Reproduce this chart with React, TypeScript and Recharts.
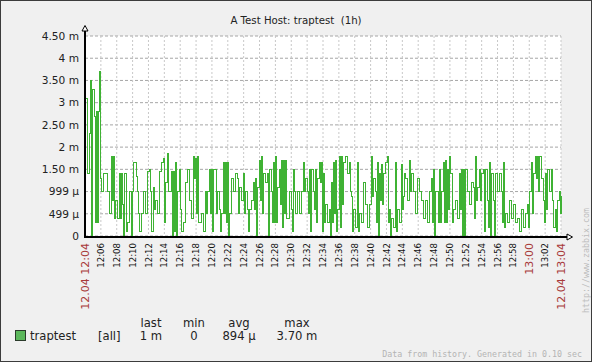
import React from 'react';
import { LineChart, Line, XAxis, YAxis, CartesianGrid } from 'recharts';

// traptest values in milliseconds, read left to right (about 7.5 s per value)
const part1204 = [
  3.1, 3.1, 1.4, 1.4, 2.3, 3.5, 0, 3.3, 3.3, 2.7, 0.3, 2.8, 0.3, 2.8, 3.7, 1.3, 1.0, 1.0, 1.4, 1.4,
  1.4, 1.4, 1.0, 1.0, 0.5, 0.5, 1.8, 0.8, 1.8, 0.4, 0.8, 0.8, 0.4, 0.4, 1.4, 0.4, 1.4, 0.7, 0, 1.4,
  1.4, 0.1, 0.3, 0.3, 1.0, 1.0, 0, 1.0, 1.65, 1.65, 1.65, 1.35, 1.0, 0.5, 0.1, 0.1, 0.5, 0.5, 1.0, 1.0,
  0.5, 0.5, 1.45, 1.45, 1.5, 1.0, 0.1, 0.1, 1.1, 0.6, 0.8, 0.8, 0.5, 0.5, 1.45, 1.45, 1.65, 1.65, 1.75, 0.3,
  1.2, 1.2, 1.85, 1.0, 1.0, 1.0, 1.45, 0, 1.45, 0.1, 1.65, 0, 1.0, 1.0, 1.5, 0.6, 0.1, 0.1, 0.3, 0.3,
  1.2, 1.2, 1.5, 1.5, 0.8, 0.8, 0.4, 0.4, 1.8, 1.3, 1.75, 0.5, 1.8, 0.3, 0.3, 0.3, 0.5, 0.5, 0.1, 0.1,
];
const part1219 = [
  1.0, 0.5, 1.0, 1.0, 1.5, 0.5, 1.5, 0.1, 1.5, 1.5, 1.5, 0.5, 1.0, 1.0, 0.6, 0.1, 0.5, 0.5, 1.65, 0.5,
  1.65, 0.3, 1.65, 0, 0.5, 0.5, 1.3, 1.3, 1.0, 1.0, 1.4, 1.4, 1.3, 0.5, 1.1, 1.1, 0.8, 0.8, 1.4, 0.5,
  1.0, 1.0, 0.6, 0.1, 0.6, 0.6, 0.8, 0.8, 1.2, 0.6, 1.3, 0, 1.1, 1.1, 1.7, 0.8, 1.8, 0.5, 1.4, 1.4,
  1.2, 1.2, 1.4, 0, 1.5, 1.5, 1.0, 0.3, 1.65, 0.3, 1.8, 0.3, 1.1, 1.1, 1.5, 0.7, 1.7, 0.2, 1.7, 0.5,
  1.7, 0.4, 0.4, 0.4, 1.0, 1.0, 0.6, 0.1, 1.5, 1.0, 0.5, 0.5, 1.0, 1.0, 0.5, 0.5, 1.0, 1.0, 1.65, 1.0,
  1.3, 1.3, 1.0, 0.5, 1.5, 0.1, 1.5, 1.5, 1.0, 0.6, 1.5, 0.3, 1.3, 1.3, 1.65, 1.2, 1.65, 0.1, 1.4, 0.3,
];
const part1234 = [
  0.7, 0.7, 0.3, 0.3, 0.6, 0, 1.2, 0.3, 1.65, 0.5, 1.7, 0.1, 0.6, 0.6, 1.8, 0.2, 1.8, 0.7, 1.65, 1.65,
  1.8, 1.8, 1.4, 1.4, 1.65, 1.0, 0.9, 0.1, 0.6, 0.6, 0.2, 0.2, 1.65, 0.1, 0.5, 0.5, 0.3, 0.3, 1.2, 1.2,
  0.7, 0.7, 0.2, 0.2, 0.7, 0.7, 1.8, 0.9, 1.3, 1.3, 1.0, 0.3, 1.65, 0, 1.4, 0.8, 1.6, 0.7, 1.4, 1.4,
  1.65, 1.65, 1.8, 0.3, 0.6, 0, 0.4, 0.4, 0.2, 0.2, 1.65, 0.1, 0.6, 0.6, 0.3, 0.3, 1.6, 0.6, 0.9, 1.4,
  1.3, 1.3, 0.8, 0.8, 1.7, 1.0, 1.4, 1.4, 1.0, 1.0, 0.5, 0.5, 1.3, 1.3, 1.0, 1.0, 0.8, 0.8, 0.4, 0.4,
  0.8, 0.8, 0.3, 0.3, 1.0, 1.0, 1.3, 0.3, 1.5, 0, 1.0, 1.0, 1.0, 0.3, 1.5, 0.3, 1.0, 1.0, 1.65, 0.3,
];
const part1249 = [
  1.7, 0.3, 1.5, 0.6, 1.8, 1.4, 1.4, 0.3, 0.6, 0.6, 0.8, 0.8, 0.4, 0.4, 1.4, 0.6, 1.5, 0, 1.5, 0,
  1.5, 1.5, 1.0, 1.0, 0.7, 0.7, 1.2, 1.2, 1.1, 0.4, 1.8, 0.8, 1.1, 1.1, 1.5, 0.8, 1.4, 1.4, 1.5, 0.1,
  1.5, 1.5, 0.8, 0.2, 1.65, 0, 1.4, 1.4, 0.8, 0, 1.4, 1.4, 1.0, 1.0, 1.4, 1.4, 1.0, 0.3, 1.65, 0.2,
  0.5, 0.5, 0.3, 0.3, 0.8, 0.8, 0.4, 0.4, 0.7, 0.7, 0.3, 0.3, 0.4, 0.4, 0.1, 0.1, 0.6, 0.6, 0.2, 0.2,
  0.5, 0.5, 0.7, 0.2, 1.0, 1.0, 1.65, 0.5, 1.4, 1.4, 1.8, 1.3, 1.8, 1.0, 1.8, 1.8, 1.3, 1.3, 0.8, 0.3,
  1.4, 0.6, 1.5, 1.5, 1.0, 1.0, 1.5, 0.8, 0.2, 0.2, 0.6, 0.1, 0.8, 0.8, 1.0, 0.5, 0.9,
];

const timeLabels = [
  '12.04 12:04', '12:06', '12:08', '12:10', '12:12', '12:14', '12:16', '12:18', '12:20', '12:22',
  '12:24', '12:26', '12:28', '12:30', '12:32', '12:34', '12:36', '12:38', '12:40', '12:42',
  '12:44', '12:46', '12:48', '12:50', '12:52', '12:54', '12:56', '12:58', '13:00', '13:02',
  '12.04 13:04',
];
const redLabels = ['12.04 12:04', '13:00', '12.04 13:04'];
const tickMinutes = [
  0, 2, 4, 6, 8, 10, 12, 14, 16, 18, 20, 22, 24, 26, 28, 30,
  32, 34, 36, 38, 40, 42, 44, 46, 48, 50, 52, 54, 56, 58, 60,
];

const yTicks = [0, 0.5, 1, 1.5, 2, 2.5, 3, 3.5, 4, 4.5];
const yLabels = ['0', '499 µ', '999 µ', '1.50 m', '2 m', '2.50 m', '3 m', '3.50 m', '4 m', '4.50 m'];

const seriesName = 'traptest';
const legendHeaders = ['last', 'min', 'avg', 'max'];
const legendStats = ['1 m', '0', '894 µ', '3.70 m'];
const title = 'A Test Host: traptest  (1h)';

const values = [...part1204, ...part1219, ...part1234, ...part1249];
const data = values.map((v, i) => ({ t: (i * 60) / (values.length - 1), v }));

const FONT = 'DejaVu Sans';
const MONO = 'DejaVu Sans Mono';

const XTick = (props: any) => {
  const { x, y, payload } = props;
  const idx = tickMinutes.indexOf(payload.value);
  const label = timeLabels[idx] ?? '';
  const red = redLabels.includes(label);
  return (
    <text
      x={x}
      y={y}
      transform={`rotate(-90, ${x}, ${y})`}
      textAnchor="end"
      dy="0.36em"
      fontFamily={FONT}
      fontSize={red ? 11 : 8.6}
      fill={red ? '#a83a3a' : '#111'}
    >
      {label}
    </text>
  );
};

const YTick = (props: any) => {
  const { x, y, payload } = props;
  const idx = yTicks.indexOf(payload.value);
  return (
    <text x={x} y={y} textAnchor="end" dy="0.36em" fontFamily={FONT} fontSize={10.6} fill="#222">
      {yLabels[idx]}
    </text>
  );
};

export default function App() {
  const legendCenters = [151, 194, 239, 297];
  return (
    <div
      style={{
        position: 'absolute',
        left: 0,
        top: 0,
        width: 592,
        height: 362,
        background: '#f0f0f0',
        boxSizing: 'border-box',
        border: '1px solid #3c3c3c',
        overflow: 'hidden',
      }}
    >
      <div style={{ position: 'absolute', left: -1, top: -1 }}>
        <LineChart width={592} height={362} data={data} margin={{ top: 36, right: 31, bottom: 0, left: 0 }}>
          <CartesianGrid vertical={false} stroke="#a6a6a6" strokeDasharray="3 2" fill="#ffffff" />
          <CartesianGrid horizontal={false} stroke="#c8c8c8" strokeDasharray="2 2" />
          <XAxis
            dataKey="t"
            type="number"
            domain={[0, 60]}
            ticks={tickMinutes}
            interval={0}
            height={126}
            axisLine={false}
            tickLine={false}
            tickSize={0}
            tickMargin={7}
            tick={<XTick />}
          />
          <YAxis
            type="number"
            domain={[0, 4.5]}
            ticks={yTicks}
            interval={0}
            width={85}
            axisLine={false}
            tickLine={false}
            tickSize={0}
            tickMargin={6}
            tick={<YTick />}
          />
          <Line
            type="stepAfter"
            dataKey="v"
            stroke="#3fb234"
            strokeWidth={1}
            dot={false}
            isAnimationActive={false}
            shapeRendering="crispEdges"
          />
        </LineChart>
      </div>
      <svg
        width={592}
        height={362}
        style={{ position: 'absolute', left: -1, top: -1, pointerEvents: 'none' }}
      >
        <text
          x={296}
          y={23.7}
          textAnchor="middle"
          fontFamily={FONT}
          fontSize={10.2}
          fill="#222"
          style={{ whiteSpace: 'pre' }}
        >
          {title}
        </text>
        {/* axes */}
        <line x1={85} y1={30} x2={85} y2={238} stroke="#000" strokeWidth={2} />
        <line x1={84} y1={237} x2={567} y2={237} stroke="#000" strokeWidth={2} />
        <polygon points="85,25.5 82,31 88,31" fill="#fff" stroke="#000" strokeWidth={1} />
        <polygon points="572.5,237 567,234 567,240" fill="#fff" stroke="#000" strokeWidth={1} />
        {/* legend */}
        {legendHeaders.map((h, i) => (
          <text key={h} x={legendCenters[i]} y={326.5} textAnchor="middle" fontFamily={FONT} fontSize={11.6} fill="#222">
            {h}
          </text>
        ))}
        <rect x={15.5} y={330.5} width={10} height={10} fill="#5cb85c" stroke="#2b3b2b" strokeWidth={1} />
        <text x={30} y={340} fontFamily={FONT} fontSize={11.6} fill="#222">
          {seriesName}
        </text>
        <text x={98} y={340} fontFamily={FONT} fontSize={11.6} fill="#222">
          [all]
        </text>
        {legendStats.map((s, i) => (
          <text key={i} x={legendCenters[i]} y={340} textAnchor="middle" fontFamily={FONT} fontSize={11.6} fill="#222">
            {s}
          </text>
        ))}
        <text x={582} y={357} textAnchor="end" fontFamily={MONO} fontSize={8.3} fill="#b4b4b4" style={{ whiteSpace: 'pre' }}>
          Data from history. Generated in 0.10 sec
        </text>
        <text
          x={588.5}
          y={313}
          transform="rotate(-90, 588.5, 313)"
          fontFamily={MONO}
          fontSize={8.3}
          fill="#bdbdbd"
        >
          http://www.zabbix.com
        </text>
      </svg>
    </div>
  );
}
